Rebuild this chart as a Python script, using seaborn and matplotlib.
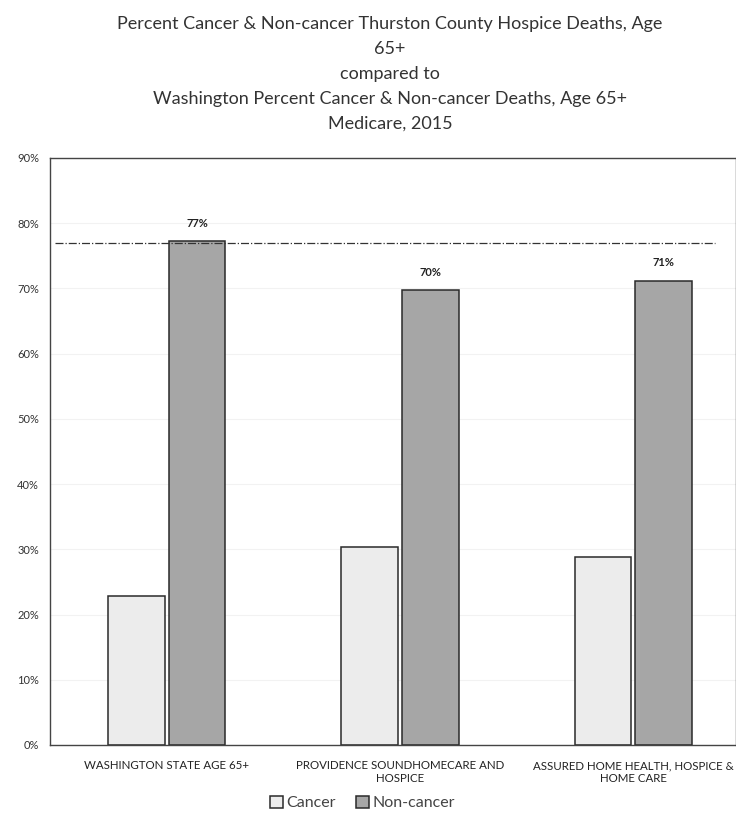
import matplotlib
matplotlib.use("Agg")
import matplotlib.pyplot as plt
import seaborn as sns
import pandas as pd

categories = ["WASHINGTON STATE AGE 65+",
              "PROVIDENCE SOUNDHOMECARE AND\nHOSPICE",
              "ASSURED HOME HEALTH, HOSPICE &\nHOME CARE"]
series = ["Cancer", "Non-cancer"]
cancer = [22.8, 30.3, 28.8]
non_cancer = [77.2, 69.7, 71.2]
value_labels = ["77%", "70%", "71%"]
reference_value = 77.0
yticks = [0, 10, 20, 30, 40, 50, 60, 70, 80, 90]
title = ("Percent Cancer & Non-cancer Thurston County Hospice Deaths, Age\n65+\n"
         "compared to\nWashington Percent Cancer & Non-cancer Deaths, Age 65+\nMedicare, 2015")

df = pd.DataFrame({
    "category": categories * 2,
    "series": [series[0]] * 3 + [series[1]] * 3,
    "value": cancer + non_cancer,
})

sns.set_theme(style="white")
plt.rcParams["font.family"] = ["Lato", "DejaVu Sans"]

fig = plt.figure(figsize=(7.36, 8.25), dpi=100)
ax = fig.add_axes([0.068, 0.097, 0.932, 0.7115])

sns.barplot(data=df, x="category", y="value", hue="series",
            palette={"Cancer": "#ececec", "Non-cancer": "#a6a6a6"},
            edgecolor="#2a2a2a", linewidth=1.1, width=0.52, gap=0.07,
            ax=ax, legend=True)

ax.set_ylim(0, 90)
ax.set_xlim(-0.5, 2.44)
ax.set_yticks(yticks)
ax.set_yticklabels([f"{t}%" for t in yticks], fontsize=8, color="#333333")
ax.tick_params(axis="x", labelsize=8.3, colors="#222222", length=0, pad=11)
ax.tick_params(axis="y", length=0, pad=8)
ax.set_xlabel("")
ax.set_ylabel("")
ax.yaxis.grid(True, color="#f2f2f2", linewidth=0.8)
ax.set_axisbelow(True)
for s in ax.spines.values():
    s.set_color("#444444")
    s.set_linewidth(1.0)

# value labels on non-cancer bars
nc_container = ax.containers[1]
ax.bar_label(nc_container, labels=value_labels, padding=9, fontsize=8,
             fontweight="bold", color="#222222")

# reference dash-dot line
ax.plot([-0.48, 2.35], [reference_value, reference_value], color="#333333",
        linestyle="-.", linewidth=0.9)

leg = ax.legend(loc="upper center", bbox_to_anchor=(0.455, -0.062), ncol=2,
                frameon=False, fontsize=11.5, handlelength=0.8, handleheight=0.8,
                handletextpad=0.2, columnspacing=1.3, labelcolor="#444444")

fig.suptitle(title, x=0.53, y=0.980, fontsize=13, color="#333333",
             linespacing=1.68, va="top")

fig.savefig("out.png", dpi=100)
